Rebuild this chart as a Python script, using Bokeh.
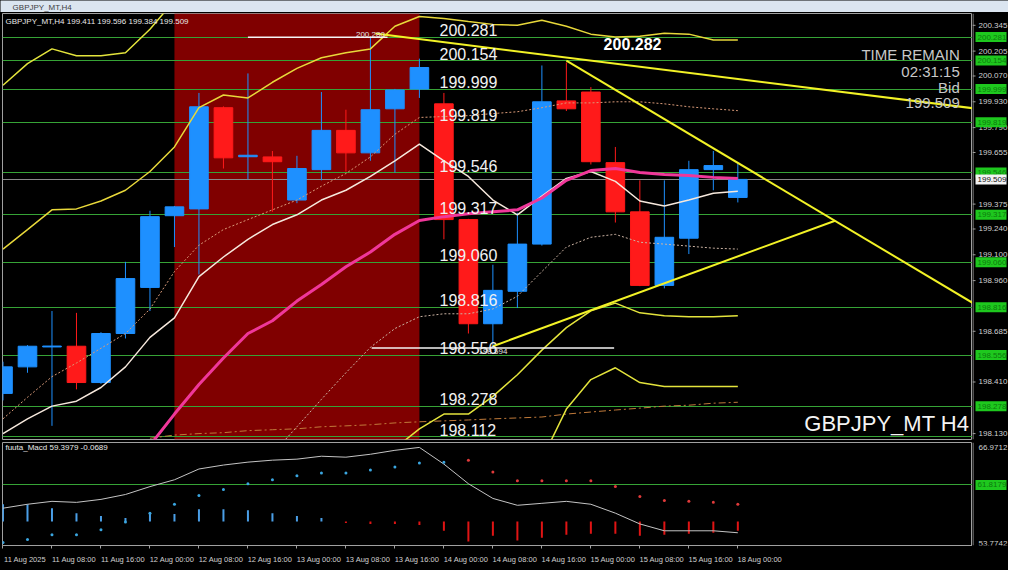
import numpy as np
from bokeh.plotting import figure
from bokeh.models import (LinearAxis, FixedTicker, Range1d, BoxAnnotation, Span)
from bokeh.layouts import column, row
from bokeh.core.properties import value
from bokeh.embed import file_html
from bokeh.resources import INLINE

# ---------------- data ----------------
symbol = "GBPJPY_MT"
period = "H4"

tick_bars = [0, 2, 4, 6, 8, 10, 12, 14, 16, 18, 20, 22, 24, 26, 28, 30]
tick_labels = ["11 Aug 2025", "11 Aug 08:00", "11 Aug 16:00", "12 Aug 00:00",
               "12 Aug 08:00", "12 Aug 16:00", "13 Aug 00:00", "13 Aug 08:00",
               "13 Aug 16:00", "14 Aug 00:00", "14 Aug 08:00", "14 Aug 16:00",
               "15 Aug 00:00", "15 Aug 08:00", "15 Aug 16:00", "18 Aug 00:00"]

open_ = [198.348, 198.492, 198.600, 198.604, 198.407, 198.673, 198.923, 199.312,
         199.349, 199.898, 199.632, 199.631, 199.397, 199.562, 199.775, 199.653,
         199.892, 199.999, 199.919, 199.291, 198.726, 198.902, 199.158, 199.935,
         199.983, 199.600, 199.333, 198.934, 199.190, 199.562, 199.411]
high = [198.520, 198.610, 198.795, 198.785, 198.680, 199.062, 199.339, 199.365,
        199.978, 199.905, 200.084, 199.663, 199.637, 199.983, 199.887, 200.280,
        200.000, 200.164, 199.978, 199.295, 199.046, 199.328, 200.127, 200.143,
        200.010, 199.685, 199.504, 199.504, 199.610, 199.663, 199.596]
low = [198.310, 198.460, 198.172, 198.370, 198.400, 198.646, 198.795, 199.142,
       198.993, 199.568, 199.509, 199.333, 199.380, 199.504, 199.552, 199.610,
       199.546, 199.951, 199.184, 198.673, 198.594, 198.811, 199.150, 199.880,
       199.590, 199.275, 198.930, 198.918, 199.104, 199.450, 199.384]
close = [198.492, 198.604, 198.605, 198.407, 198.673, 198.971, 199.307, 199.360,
         199.903, 199.626, 199.640, 199.605, 199.568, 199.775, 199.653, 199.887,
         199.994, 200.116, 199.291, 198.726, 198.907, 199.158, 199.930, 199.892,
         199.605, 199.333, 198.934, 199.195, 199.562, 199.584, 199.509]

nan = float("nan")
bb_up3 = [200.020, 200.137, 200.217, 200.180, 200.180, 200.196, 200.324, 200.480] + [nan] * 23
bb_up2 = [199.131, 199.237, 199.344, 199.349, 199.392, 199.450, 199.552, 199.685,
          199.898, 199.967, 199.951, 200.036, 200.111, 200.169, 200.196, 200.217,
          200.340, 200.393, 200.382, 200.365, 200.350, 200.345, 200.372, 200.340,
          200.297, 200.281, 200.286, 200.302, 200.297, 200.265, 200.265]
bb_dn2 = [nan] * 16 + [198.050, 198.156, 198.236, 198.236, 198.332, 198.449, 198.583,
                       198.705, 198.796, 198.838, 198.785, 198.769, 198.764, 198.764, 198.769]
bb_dn3 = [nan] * 22 + [197.990, 198.263, 198.423, 198.487, 198.407, 198.386, 198.386,
                       198.386, 198.386]
bb_up1 = [198.210, 198.327, 198.439, 198.513, 198.593, 198.673, 198.806, 199.009,
          199.152, 199.237, 199.291, 199.344, 199.397, 199.472, 199.541, 199.631,
          199.754, 199.845, 199.850, 199.855, 199.866, 199.876, 199.898, 199.924,
          199.924, 199.930, 199.930, 199.919, 199.903, 199.892, 199.882]
bb_dn1 = [nan] * 11 + [198.020, 198.167, 198.316, 198.460, 198.598, 198.700, 198.764,
                       198.780, 198.780, 198.806, 198.875, 199.009, 199.142, 199.195,
                       199.211, 199.168, 199.158, 199.147, 199.136, 199.131]
ma_long = [nan] * 6 + [198.105, 198.122, 198.130, 198.135, 198.146, 198.151, 198.156,
                       198.167, 198.172, 198.178, 198.188, 198.194, 198.199, 198.204,
                       198.210, 198.215, 198.220, 198.236, 198.247, 198.258, 198.268,
                       198.279, 198.284, 198.295, 198.300]
ma_fast = [198.130, 198.210, 198.279, 198.306, 198.380, 198.492, 198.652, 198.758,
           198.982, 199.088, 199.184, 199.264, 199.317, 199.397, 199.450, 199.525,
           199.610, 199.701, 199.610, 199.525, 199.397, 199.317, 199.418, 199.514,
           199.552, 199.498, 199.392, 199.365, 199.397, 199.434, 199.445]
ma_pink = [nan] * 6 + [198.066, 198.236, 198.396, 198.540, 198.673, 198.742, 198.849,
                       198.939, 199.035, 199.115, 199.211, 199.286, 199.307, 199.323,
                       199.333, 199.344, 199.408, 199.504, 199.557, 199.568, 199.546,
                       199.536, 199.530, 199.520, 199.514]

levels = [200.281, 200.154, 199.999, 199.819, 199.546, 199.317, 199.060, 198.816,
          198.556, 198.278, 198.112]
box_levels = [200.281, 200.154, 199.999, 199.819, 199.546, 199.317, 199.060, 198.816,
              198.556, 198.278]
bid = 199.509
price_ticks = [200.345, 200.205, 200.070, 199.930, 199.790, 199.655, 199.375, 199.240,
               199.100, 198.960, 198.685, 198.410, 198.130]

zone_start, zone_end = 7, 17
hl_high = (10, 15.7, 200.280)
hl_low = (15.05, 24.95, 198.594)
trend_a = ([15.2, 39.6], [200.300, 199.895])
trend_b = ([23.0, 39.6], [200.153, 198.838])
trend_c = ([20.0, 33.97], [198.604, 199.285])

macd = [58.63, 59.17, 59.57, 59.43, 59.84, 60.51, 61.59, 62.53, 64.01, 64.55, 64.95,
        65.22, 65.36, 65.76, 65.63, 66.03, 66.57, 66.97, 64.68, 61.99, 59.97, 59.03,
        59.30, 59.57, 59.17, 57.95, 56.47, 55.53, 55.53, 55.53, 55.26]
signal = [53.92, 54.32, 54.99, 54.99, 55.67, 56.74, 57.95, 59.17, 60.38, 61.18, 61.99,
          62.53, 63.07, 63.47, 63.47, 63.88, 64.28, 64.82, 64.95, 65.22, 63.61, 62.40,
          62.40, 62.40, 62.40, 61.59, 60.24, 59.70, 59.57, 59.43, 59.17]
hist = [2.36, 2.36, 1.82, 1.14, 0.74, 0.47, 1.28, 1.01, 1.68, 1.68, 1.55, 1.14, 0.74,
        0.47, -0.20, -0.34, -0.34, -0.47, -1.28, -2.76, -1.95, -2.62, -2.22, -1.82,
        -1.68, -1.68, -1.95, -1.82, -1.68, -1.55, -1.28]
hist_base = 56.81
macd_level = 61.8179
macd_ticks = [66.9712, 53.7742]
macd_title = "fuuta_Macd 59.3979  -0.0689"

# ---------------- styling ----------------
FONT = "Liberation Sans"
BLUE = "#1e90ff"
RED = "#ff1a1a"
GREEN_LINE = "#36a336"
BOX_GREEN = "#1ec81e"
AXIS_GRAY = "#a0a0a0"
LABEL_GRAY = "#d0d0d0"
FRAME_W = 970
STRIP_W = 36
MAIN_H = 426
MACD_H = 103

idx = np.arange(len(open_))
o = np.array(open_); c = np.array(close)
cols = [BLUE if cc >= oo else RED for oo, cc in zip(open_, close)]

XR = Range1d(-0.02, 39.58)
YR = Range1d(198.098, 200.409)
MYR = Range1d(53.512, 67.644)


def base_fig(**kw):
    f = figure(toolbar_location=None, output_backend="svg",
               x_axis_location=None, y_axis_location=None, **kw)
    f.grid.visible = False
    f.background_fill_color = "black"
    f.border_fill_color = "black"
    return f


# ---------------- title bar ----------------
tb = figure(width=FRAME_W + 2 + STRIP_W, height=12, x_range=Range1d(0, 1),
            y_range=Range1d(0, 1), toolbar_location=None, output_backend="svg",
            x_axis_location=None, y_axis_location=None, min_border=0)
tb.grid.visible = False
tb.background_fill_color = "#dbe5f0"
tb.border_fill_color = "#dbe5f0"
tb.outline_line_color = None
tb.text(x=[0.012], y=[0.45], text=[f"{symbol},{period}"], text_font=value(FONT),
        text_font_size="8px", text_baseline="middle", text_color="#404040")

# ---------------- main chart ----------------
p = base_fig(frame_width=FRAME_W, frame_height=MAIN_H, x_range=XR, y_range=YR,
             min_border_left=2, min_border_right=0, min_border_top=1, min_border_bottom=1)
p.outline_line_color = AXIS_GRAY

p.add_layout(BoxAnnotation(left=zone_start, right=zone_end, fill_color="#800000",
                           fill_alpha=1.0, line_color=None, level="underlay"))

p.hspan(y=levels, line_color=GREEN_LINE, line_width=1)
p.hspan(y=[bid], line_color="#8a8a8a", line_width=1)

# candles
p.segment(x0=idx, y0=low, x1=idx, y1=high, line_color=cols, line_width=1)
p.vbar(x=idx, width=0.76, top=np.maximum(o, c), bottom=np.minimum(o, c),
       fill_color=cols, line_color=cols, line_width=1)

# indicator lines
p.line(idx, ma_long, line_color="#c07a3a", line_width=1, line_dash="7 3 2 3")
p.line(idx, bb_up1, line_color="#d99a78", line_width=1, line_dash="2 2")
p.line(idx, bb_dn1, line_color="#cbb3a3", line_width=1, line_dash="2 2")
p.line(idx, bb_up3, line_color="#e4e43c", line_width=1.5)
p.line(idx, bb_up2, line_color="#e8d83a", line_width=1.5)
p.line(idx, bb_dn2, line_color="#e4e43c", line_width=1.5)
p.line(idx, bb_dn3, line_color="#e4e43c", line_width=1.5)
p.line(idx, ma_fast, line_color="#f6e8dc", line_width=1.5)
p.line(idx, ma_pink, line_color="#f0379a", line_width=3)

# horizontal white lines and trend lines
p.segment(x0=[hl_high[0], hl_low[0]], y0=[hl_high[2], hl_low[2]],
          x1=[hl_high[1], hl_low[1]], y1=[hl_high[2], hl_low[2]],
          line_color="#f4f4f4", line_width=1.5)
for tx, ty in (trend_a, trend_b, trend_c):
    p.line(tx, ty, line_color="#f2f226", line_width=2)

# texts
p.text(x=[17.82] * len(levels), y=levels, text=[f"{v:.3f}" for v in levels],
       text_font=value(FONT), text_font_size="16px", text_color="#f2f2f2",
       text_baseline="bottom", y_offset=-1)
p.text(x=[15.0], y=[hl_high[2]], text=[f"{hl_high[2]:.3f}"], text_font=value(FONT),
       text_font_size="8px", text_color="#e0e0e0", text_align="center",
       text_baseline="bottom", y_offset=0)
p.text(x=[20.0], y=[hl_low[2]], text=[f"{hl_low[2]:.3f}"], text_font=value(FONT),
       text_font_size="8px", text_color="#e0e0e0", text_align="center",
       text_baseline="top", y_offset=1)
p.text(x=[25.7], y=[200.244], text=["200.282"], text_font=value(FONT),
       text_font_size="16px", text_font_style="bold", text_color="white",
       text_align="center", text_baseline="middle")
p.text(x=[39.06] * 4, y=[200.185, 200.095, 200.010, 199.924],
       text=["TIME REMAIN", "02:31:15", "Bid", f"{bid:.3f}"],
       text_font=value(FONT), text_font_size="15px", text_color="#c8c8c8",
       text_align="right", text_baseline="middle")
p.text(x=[39.45], y=[198.183], text=[f"{symbol} {period}"], text_font=value(FONT),
       text_font_size="22px", text_color="#f4f4f4", text_align="right",
       text_baseline="middle")
p.text(x=[0.1], y=[200.366],
       text=[f"{symbol},{period} {open_[-1]:.3f} {high[-1]:.3f} {low[-1]:.3f} {close[-1]:.3f}"],
       text_font=value(FONT), text_font_size="8px", text_color="#e8e8e8",
       text_baseline="middle")

# ---------------- price scale strip (shares the price scale) ----------------
pa = base_fig(frame_width=STRIP_W, frame_height=MAIN_H, x_range=Range1d(0, STRIP_W),
              y_range=YR, min_border_left=0, min_border_right=0,
              min_border_top=1, min_border_bottom=1)
pa.outline_line_color = None
pa.add_layout(Span(location=0.5, dimension="height", line_color=AXIS_GRAY, line_width=1))
pa.segment(x0=[0] * len(price_ticks), y0=price_ticks, x1=[3] * len(price_ticks),
           y1=price_ticks, line_color=AXIS_GRAY, line_width=1)
pa.text(x=[6] * len(price_ticks), y=price_ticks, text=[f"{t:.3f}" for t in price_ticks],
        text_font=value(FONT), text_font_size="8px", text_color=LABEL_GRAY,
        text_baseline="middle")
pa.rect(x=[18.5] * len(box_levels), y=box_levels, width=[31] * len(box_levels),
        height=10, height_units="screen", fill_color=BOX_GREEN, line_color=None)
pa.text(x=[5] * len(box_levels), y=box_levels, text=[f"{v:.3f}" for v in box_levels],
        text_font=value(FONT), text_font_size="8px", text_color="#0d7a0d",
        text_baseline="middle")
pa.rect(x=[18.5], y=[bid], width=[31], height=10, height_units="screen",
        fill_color="#f2f2f2", line_color=None)
pa.text(x=[5], y=[bid], text=[f"{bid:.3f}"], text_font=value(FONT),
        text_font_size="8px", text_color="#111111", text_baseline="middle")

# ---------------- MACD panel ----------------
m = base_fig(frame_width=FRAME_W, frame_height=MACD_H, x_range=XR, y_range=MYR,
             min_border_left=2, min_border_right=0, min_border_top=2, min_border_bottom=0)
m.outline_line_color = AXIS_GRAY

label_pos = [b + 0.9 for b in tick_bars]
xax = LinearAxis(ticker=FixedTicker(ticks=label_pos, minor_ticks=tick_bars),
                 major_label_overrides={lp: t for lp, t in zip(label_pos, tick_labels)})
xax.axis_line_color = AXIS_GRAY
xax.major_tick_line_color = None
xax.minor_tick_line_color = AXIS_GRAY
xax.minor_tick_out = 3
xax.minor_tick_in = 0
xax.major_label_text_color = LABEL_GRAY
xax.major_label_text_font = FONT
xax.major_label_text_font_size = "7.5px"
xax.major_label_standoff = 3
m.add_layout(xax, "below")

m.hspan(y=[macd_level], line_color=GREEN_LINE, line_width=1)
h = np.array(hist)
hcols = ["#4a9ee6" if v >= 0 else "#e01414" for v in hist]
m.segment(x0=idx, y0=[hist_base] * len(idx), x1=idx, y1=hist_base + h,
          line_color=hcols, line_width=2)
m.line(idx, macd, line_color="#c4c4c4", line_width=1)
scols = ["#3aa6e0" if i <= 18 else "#e03a3a" for i in idx]
m.scatter(idx, signal, size=3, fill_color=scols, line_color=None)
m.text(x=[0.1], y=[66.97], text=[macd_title], text_font=value(FONT),
       text_font_size="8px", text_color="#e8e8e8", text_baseline="middle")

ma = base_fig(frame_width=STRIP_W, frame_height=MACD_H, x_range=Range1d(0, STRIP_W),
              y_range=MYR, min_border_left=0, min_border_right=0,
              min_border_top=2, min_border_bottom=16)
ma.outline_line_color = None
ma.add_layout(Span(location=0.5, dimension="height", line_color=AXIS_GRAY, line_width=1))
ma.text(x=[6] * len(macd_ticks), y=macd_ticks, text=[f"{t:.4f}" for t in macd_ticks],
        text_font=value(FONT), text_font_size="8px", text_color=LABEL_GRAY,
        text_baseline="middle")
ma.rect(x=[18.5], y=[macd_level], width=[31], height=10, height_units="screen",
        fill_color=BOX_GREEN, line_color=None)
ma.text(x=[5], y=[macd_level], text=[f"{macd_level:.4f}"], text_font=value(FONT),
        text_font_size="8px", text_color="#0d7a0d", text_baseline="middle")

bottom = figure(width=FRAME_W + 2 + STRIP_W, height=4, x_range=Range1d(0, 1),
                y_range=Range1d(0, 1), toolbar_location=None, output_backend="svg",
                x_axis_location=None, y_axis_location=None, min_border=0)
bottom.grid.visible = False
bottom.background_fill_color = "#dbe5f0"
bottom.border_fill_color = "#dbe5f0"
bottom.outline_line_color = None

layout = column(tb, row(p, pa, spacing=0), row(m, ma, spacing=0), bottom, spacing=0)
layout.styles = {"background-color": "black"}

open("out.html", "w").write(file_html(layout, INLINE))
